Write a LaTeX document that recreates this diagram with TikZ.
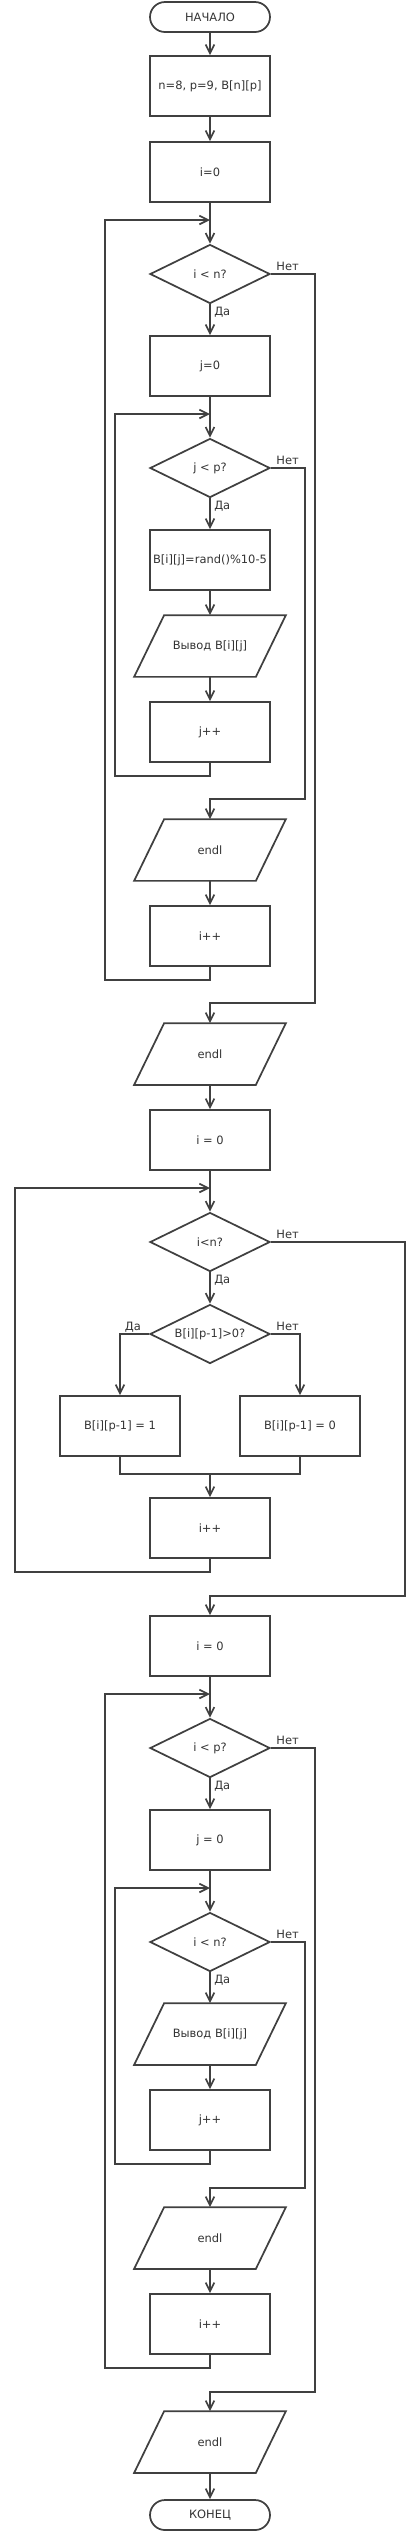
\documentclass[tikz,border=0pt]{standalone}
\usepackage{fontspec}
\setmainfont{DejaVu Sans}
\usetikzlibrary{arrows.meta,shapes.geometric}

\definecolor{ink}{HTML}{404040}
\definecolor{txt}{HTML}{333333}

\tikzset{
  base/.style={draw=ink, line width=1.3pt, text=txt, inner sep=1pt, font=\fontsize{8.6pt}{10pt}\selectfont},
  block/.style={base, rectangle, minimum width=90pt, minimum height=45pt},
  term/.style={base, rectangle, rounded corners=11.25pt, minimum width=90pt, minimum height=22.5pt},
  decision/.style={base, diamond, aspect=2, inner sep=0pt, minimum width=90pt, minimum height=44.25pt},
  iotext/.style={base, draw=none, rectangle, minimum width=90pt, minimum height=45pt},
  lbl/.style={text=txt, inner sep=0pt, font=\fontsize{8.6pt}{10pt}\selectfont},
  line/.style={draw=ink, line width=1.3pt},
  arr/.style={line, -{Straight Barb[length=6.5pt,width=6.5pt]}}
}
% parallelogram for input/output
\newcommand{\iobox}[3]{%
  \node[iotext] (#1) at #2 {#3};
  \draw[line] ([xshift=-11.25pt]#1.south west) -- ([xshift=-11.25pt]#1.south east)
    -- ([xshift=11.25pt]#1.north east) -- ([xshift=11.25pt]#1.north west) -- cycle;
}

\begin{document}
\begin{tikzpicture}[x=0.75pt,y=0.75pt,yscale=-1,xscale=1]
\useasboundingbox (0,0) rectangle (420,2532);

% first part: fill the matrix
\node[term] (start) at (210,17) {НАЧАЛО};
\node[block] (init) at (210,86) {n=8, p=9, B[n][p]};
\node[block] (ia) at (210,172) {i=0};
\coordinate (ma) at (210,220);
\node[decision] (ca) at (210,274) {i < n?};
\node[block] (ja) at (210,366) {j=0};
\coordinate (mb) at (210,414);
\node[decision] (cb) at (210,468) {j < p?};
\node[block] (rnd) at (210,560) {B[i][j]=rand()\%10-5};
\iobox{outa}{(210,646)}{Вывод B[i][j]}
\node[block] (jinca) at (210,732) {j++};
\iobox{endla}{(210,850)}{endl}
\node[block] (iinca) at (210,936) {i++};
\iobox{endlb}{(210,1054)}{endl}

\coordinate (la) at (105,980);
\coordinate (lb) at (115,776);
\coordinate (ra) at (315,1003);
\coordinate (rb) at (305,799);

\draw[arr] (start) -- (init);
\draw[arr] (init) -- (ia);
\draw[arr] (ia) -- (ca);
\draw[arr] (ca) -- (ja);
\draw[arr] (ja) -- (cb);
\draw[arr] (cb) -- (rnd);
\draw[arr] (rnd) -- (outa);
\draw[arr] (outa) -- (jinca);
\draw[arr] (jinca.south) |- (lb) |- (mb);
\draw[arr] (cb.east) -| (rb) -| (endla.north);
\draw[arr] (endla) -- (iinca);
\draw[arr] (iinca.south) |- (la) |- (ma);
\draw[arr] (ca.east) -| (ra) -| (endlb.north);

\node[lbl, anchor=base west] (na) at ([xshift=4pt,yshift=-3pt]ca.east) {Нет};
\node[lbl, anchor=north west] (ya) at ([xshift=3pt,yshift=2pt]ca.south) {Да};
\node[lbl, anchor=base west] (nb) at ([xshift=4pt,yshift=-3pt]cb.east) {Нет};
\node[lbl, anchor=north west] (yb) at ([xshift=3pt,yshift=2pt]cb.south) {Да};

% second part: last column
\node[block] (ib) at (210,1140) {i = 0};
\coordinate (mc) at (210,1188);
\node[decision] (cc) at (210,1242) {i<n?};
\node[decision] (cd) at (210,1334) {B[i][p-1]>0?};
\node[block] (setone) at (120,1426) {B[i][p-1] = 1};
\node[block] (setzero) at (300,1426) {B[i][p-1] = 0};
\coordinate (jn) at (210,1474);
\node[block] (iincb) at (210,1528) {i++};

\coordinate (lc) at (15,1572);
\coordinate (rc) at (405,1596);

\draw[arr] (endlb) -- (ib);
\draw[arr] (ib) -- (cc);
\draw[arr] (cc) -- (cd);
\draw[arr] (cd.west) -| (setone.north);
\draw[arr] (cd.east) -| (setzero.north);
\draw[line] (setone.south) |- (jn) -| (setzero.south);
\draw[arr] (jn) -- (iincb);
\draw[arr] (iincb.south) |- (lc) |- (mc);

\node[lbl, anchor=base west] (nc) at ([xshift=4pt,yshift=-3pt]cc.east) {Нет};
\node[lbl, anchor=north west] (yc) at ([xshift=3pt,yshift=2pt]cc.south) {Да};
\node[lbl, anchor=base east] (yd) at ([xshift=-6pt,yshift=-3pt]cd.west) {Да};
\node[lbl, anchor=base west] (nd) at ([xshift=4pt,yshift=-3pt]cd.east) {Нет};

% third part: print the matrix
\node[block] (ic) at (210,1646) {i = 0};
\coordinate (md) at (210,1694);
\node[decision] (ce) at (210,1748) {i < p?};
\node[block] (jb) at (210,1840) {j = 0};
\coordinate (me) at (210,1888);
\node[decision] (cf) at (210,1942) {i < n?};
\iobox{outb}{(210,2034)}{Вывод B[i][j]}
\node[block] (jincb) at (210,2120) {j++};
\iobox{endlc}{(210,2238)}{endl}
\node[block] (iincc) at (210,2324) {i++};
\iobox{endld}{(210,2442)}{endl}
\node[term] (stop) at (210,2515) {КОНЕЦ};

\coordinate (ld) at (105,2368);
\coordinate (le) at (115,2164);
\coordinate (rd) at (315,2392);
\coordinate (re) at (305,2188);

\draw[arr] (cc.east) -| (rc) -| (ic.north);
\draw[arr] (ic) -- (ce);
\draw[arr] (ce) -- (jb);
\draw[arr] (jb) -- (cf);
\draw[arr] (cf) -- (outb);
\draw[arr] (outb) -- (jincb);
\draw[arr] (jincb.south) |- (le) |- (me);
\draw[arr] (cf.east) -| (re) -| (endlc.north);
\draw[arr] (endlc) -- (iincc);
\draw[arr] (iincc.south) |- (ld) |- (md);
\draw[arr] (ce.east) -| (rd) -| (endld.north);
\draw[arr] (endld) -- (stop);

\node[lbl, anchor=base west] (ne) at ([xshift=4pt,yshift=-3pt]ce.east) {Нет};
\node[lbl, anchor=north west] (ye) at ([xshift=3pt,yshift=2pt]ce.south) {Да};
\node[lbl, anchor=base west] (nf) at ([xshift=4pt,yshift=-3pt]cf.east) {Нет};
\node[lbl, anchor=north west] (yf) at ([xshift=3pt,yshift=2pt]cf.south) {Да};

\end{tikzpicture}
\end{document}
